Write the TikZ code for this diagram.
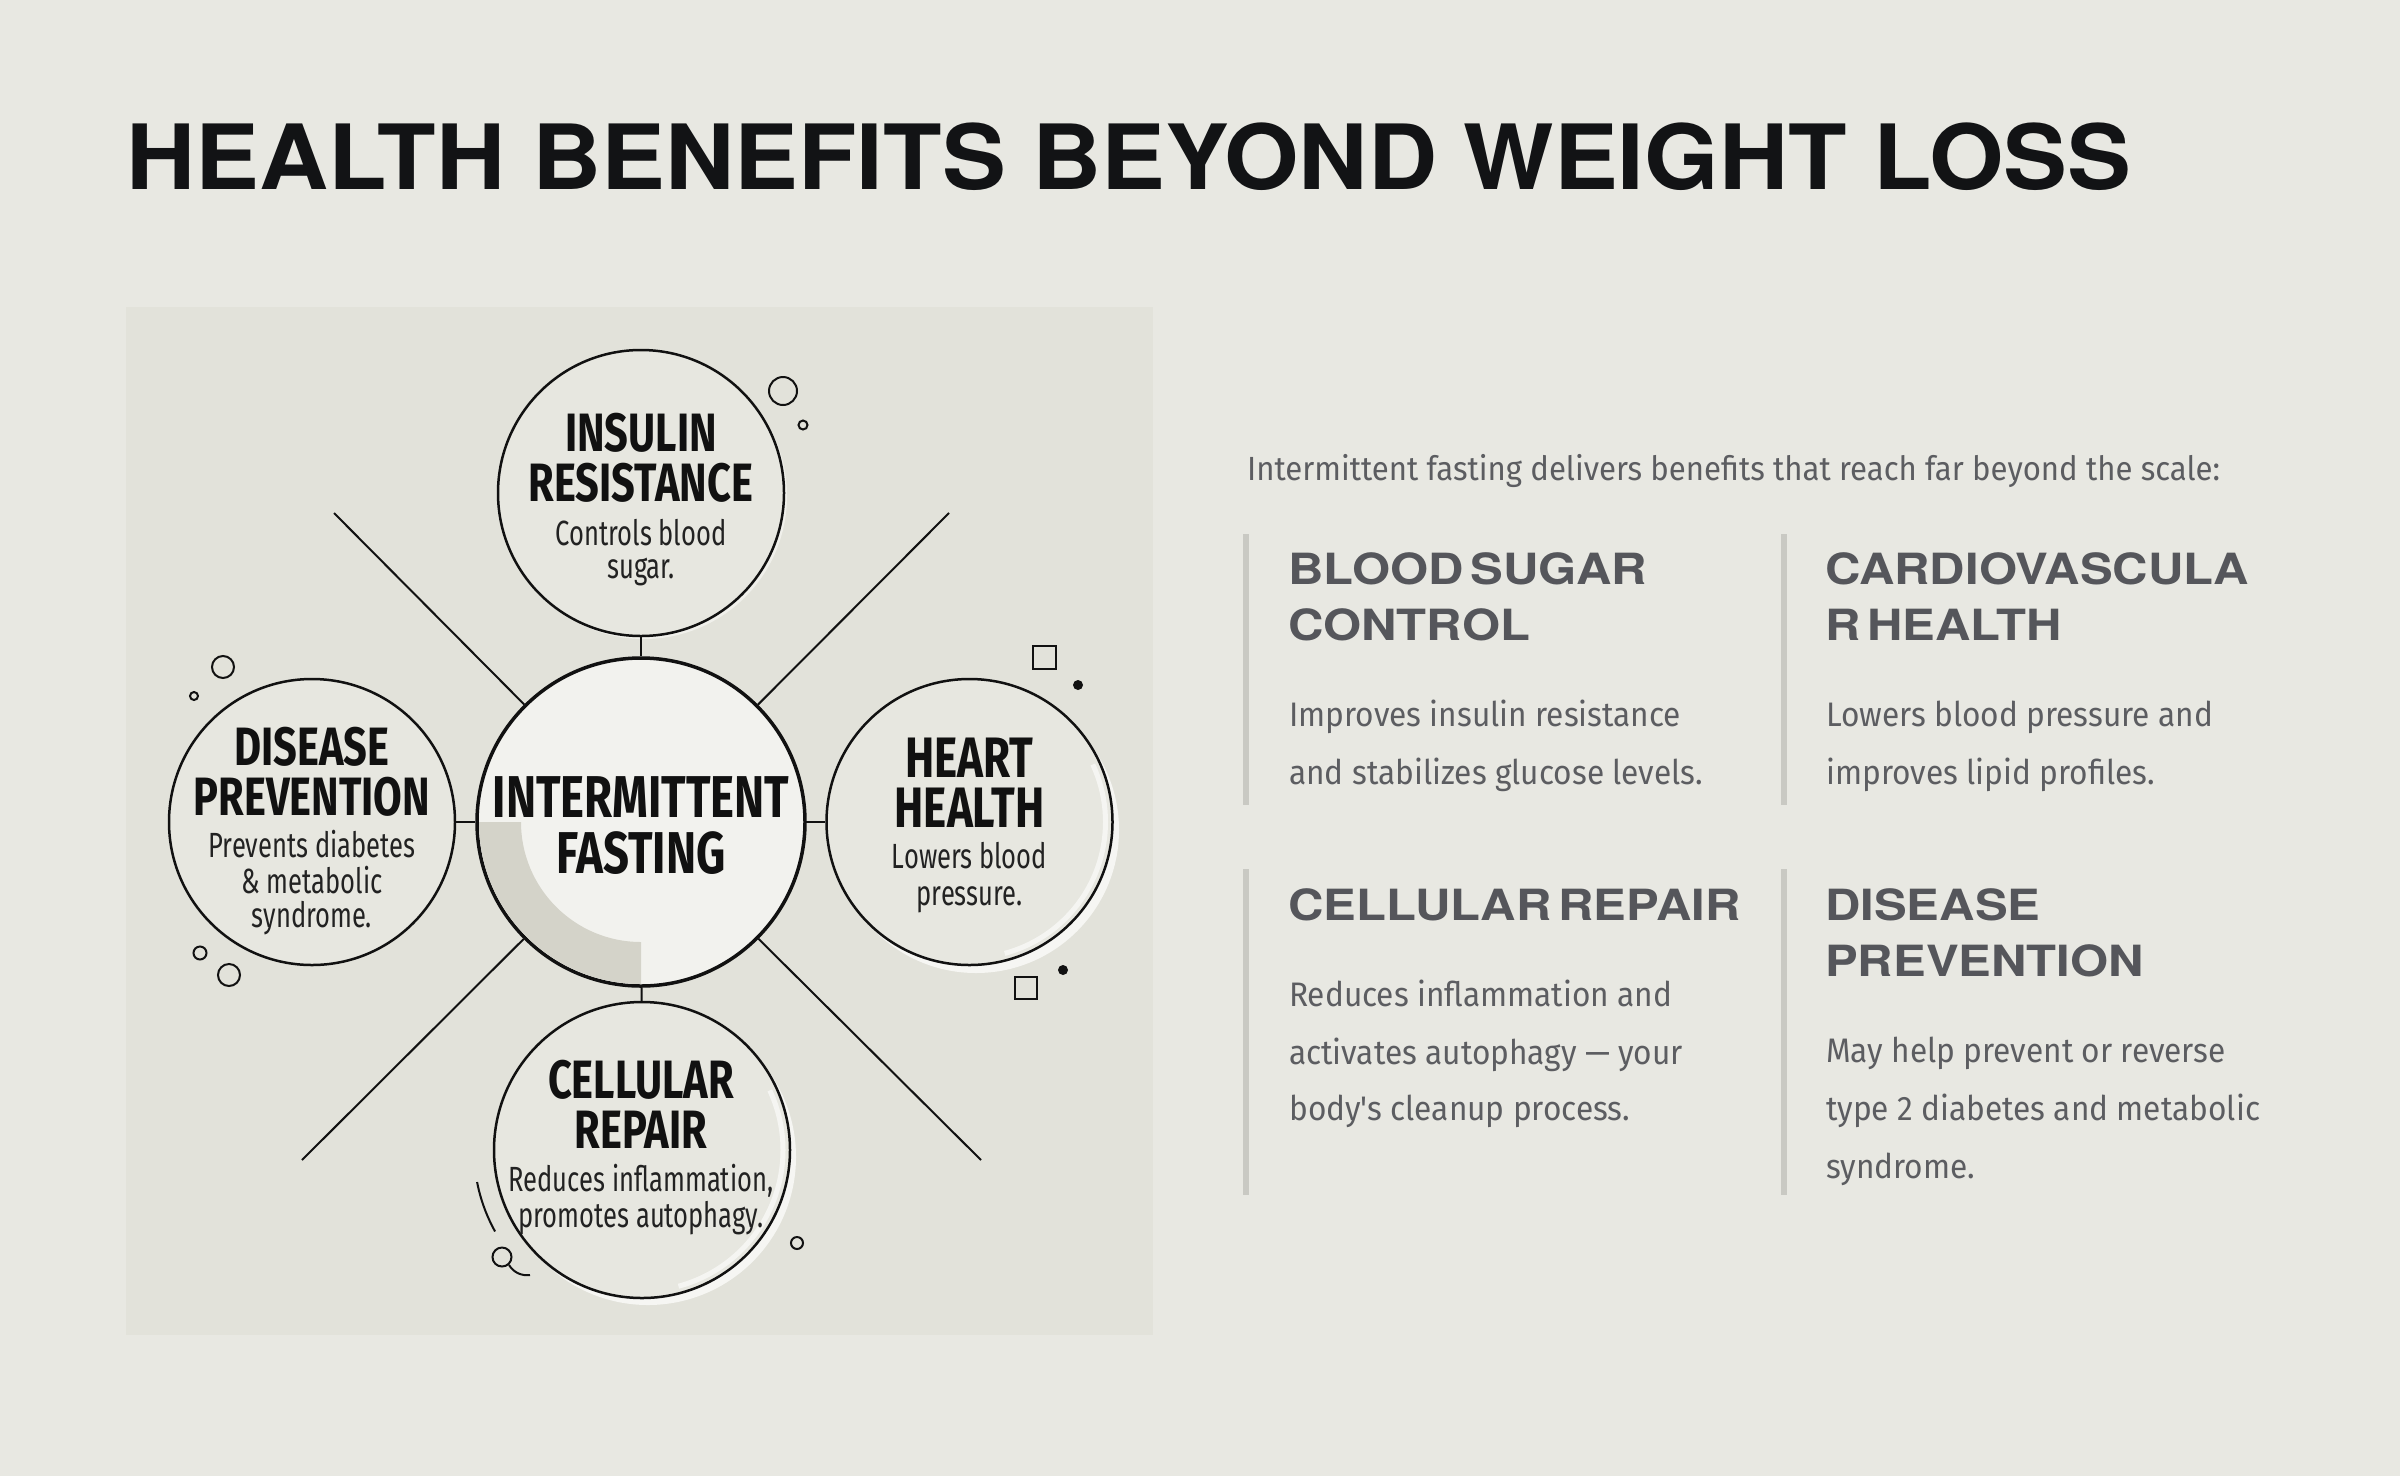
\documentclass[tikz,border=0pt]{standalone}
\usepackage{fontspec}
\setmainfont{Fira Sans}
\newfontfamily\titlef{TeX Gyre Heros}[FakeStretch=1.064]
\newfontfamily\headf{TeX Gyre Heros}[FakeStretch=1.14, WordSpace=0.5]
\newfontfamily\bodyf{Fira Sans}[FakeStretch=0.93]
\newfontfamily\chf{Fira Sans}[FakeStretch=0.77]
\newfontfamily\csf{Fira Sans}[FakeStretch=0.73]
\definecolor{bgc}{HTML}{E8E8E2}
\definecolor{panelc}{HTML}{E2E2DA}
\definecolor{circc}{HTML}{E7E7E0}
\definecolor{centc}{HTML}{F2F2EE}
\definecolor{greyq}{HTML}{D4D3C9}
\definecolor{titlec}{HTML}{121315}
\definecolor{headc}{HTML}{55565B}
\definecolor{bodyc}{HTML}{5C5D61}
\definecolor{barc}{HTML}{C9C9C3}
\definecolor{inkc}{HTML}{111111}
\definecolor{subc}{HTML}{222222}
\definecolor{shinec}{HTML}{F6F6F3}
\begin{document}
\begin{tikzpicture}[x=1pt,y=1pt,
  ln/.style={draw=inkc, line width=2pt},
  bubble/.style={circle, draw=inkc, line width=2.5pt, fill=circc, inner sep=0pt, minimum size=#1},
  chead/.style={inner sep=0pt, anchor=base, text=inkc, font=\chf\bfseries\fontsize{54}{60}\selectfont},
  csub/.style={inner sep=0pt, anchor=base, text=subc, font=\csf\fontsize{35}{40}\selectfont},
  rhead/.style={inner sep=0pt, anchor=base west, text=headc, font=\headf\bfseries\fontsize{43}{50}\selectfont},
  rbody/.style={inner sep=0pt, anchor=base west, text=bodyc, font=\bodyf\fontsize{34}{40}\selectfont},
  bar/.style={fill=barc},
  deco/.style={draw=inkc, line width=2pt},
]
\useasboundingbox (0,0) rectangle (2400,-1476);
\fill[bgc] (0,0) rectangle (2400,-1476);
\node[inner sep=0pt, anchor=base west, text=titlec, font=\titlef\bfseries\fontsize{90}{100}\selectfont] (title) at (126,-189) {HEALTH BENEFITS BEYOND WEIGHT LOSS};

% panel
\fill[panelc] (126,-307) rectangle (1153,-1335);

% shine circles
\fill[shinec] (976,-830) circle[radius=143];
\fill[shinec] (648,-1157) circle[radius=148];
\fill[shinec!60!circc] (644,-496) circle[radius=143];

% nodes
\node[bubble=286pt] (ins) at (641,-493) {};
\node[bubble=286pt] (dis) at (312,-822) {};
\node[bubble=286pt] (hrt) at (969.5,-822) {};
\node[bubble=296pt] (cel) at (642,-1150) {};
\node[circle, draw=inkc, line width=3.5pt, fill=centc, inner sep=0pt, minimum size=328pt] (c) at (641,-822) {};

% highlights
\draw[white, line width=5pt, opacity=.6] (969.5,-822) ++(-75:136) arc[start angle=-75, end angle=25, radius=136];
\draw[white, line width=5pt, opacity=.6] (642,-1150) ++(-75:141) arc[start angle=-75, end angle=25, radius=141];

% quarter annulus in centre
\fill[greyq] (641,-822) ++(-162,0) arc[start angle=180, end angle=270, radius=162] -- ++(0,42) arc[start angle=270, end angle=180, radius=120] -- cycle;

% diagonal lines
\coordinate (d1) at (334,-513);
\coordinate (d2) at (949,-513);
\coordinate (d3) at (302,-1160);
\coordinate (d4) at (981,-1160);
\draw[ln] (c) -- (d1);
\draw[ln] (c) -- (d2);
\draw[ln] (c) -- (d3);
\draw[ln] (c) -- (d4);
% connectors
\draw[ln] (c) -- (ins);
\draw[ln] (c) -- (dis);
\draw[ln] (c) -- (hrt);
\draw[ln] (c) -- (cel);

% decorations
\draw[deco] (783,-391) circle[radius=14];
\draw[deco] (803,-425) circle[radius=4.5];
\draw[deco] (223,-667) circle[radius=11];
\draw[deco] (194,-696) circle[radius=4];
\draw[deco] (200,-953) circle[radius=6.5];
\draw[deco] (229,-975) circle[radius=11];
\draw[deco] (1032.5,-645.5) rectangle (1055.5,-668.5);
\draw[deco] (1015,-977) rectangle (1037,-999);
\fill[inkc] (1078,-685) circle[radius=5];
\fill[inkc] (1063,-970) circle[radius=5];
\draw[deco] (642,-1150) ++(191:168) arc[start angle=191, end angle=209, radius=168];
\draw[deco] (502,-1257) circle[radius=9.5];
\draw[deco] (509,-1265) .. controls (514,-1273) and (522,-1276) .. (530,-1275);
\draw[deco] (797,-1243) circle[radius=6];

% circle texts
\node[chead] (ins1) at (641,-451) {INSULIN};
\node[chead] (ins2) at (641,-501) {RESISTANCE};
\node[csub] (ins3) at (641,-545) {Controls blood};
\node[csub] (ins4) at (641,-578) {sugar.};

\node[chead] (dis1) at (312,-765) {DISEASE};
\node[chead] (dis2) at (312,-815) {PREVENTION};
\node[csub] (dis3) at (312,-857) {Prevents diabetes};
\node[csub] (dis4) at (312,-893) {\& metabolic};
\node[csub] (dis5) at (312,-927) {syndrome.};

\node[chead, font=\chf\bfseries\fontsize{59}{60}\selectfont] (c1) at (641,-817) {INTERMITTENT};
\node[chead, font=\chf\bfseries\fontsize{59}{60}\selectfont] (c2) at (641,-873) {FASTING};

\node[chead, font=\chf\bfseries\fontsize{57}{60}\selectfont] (h1) at (969.5,-777) {HEART};
\node[chead, font=\chf\bfseries\fontsize{57}{60}\selectfont] (h2) at (969.5,-827) {HEALTH};
\node[csub] (h3) at (969.5,-868) {Lowers blood};
\node[csub] (h4) at (969.5,-905) {pressure.};

\node[chead] (r1) at (641,-1098) {CELLULAR};
\node[chead] (r2) at (641,-1148) {REPAIR};
\node[csub] (r3) at (641,-1191) {Reduces inflammation,};
\node[csub] (r4) at (641,-1227) {promotes autophagy.};

% right side
\node[rbody, font=\bodyf\fontsize{33.5}{40}\selectfont] (intro) at (1247,-480) {Intermittent fasting delivers benefits that reach far beyond the scale:};

\fill[bar] (1243,-534) rectangle (1249,-805);
\fill[bar] (1781,-534) rectangle (1787,-805);
\fill[bar] (1243,-869) rectangle (1249,-1195);
\fill[bar] (1781,-869) rectangle (1787,-1195);

\node[rhead] (h11) at (1288,-584) {BLOOD SUGAR};
\node[rhead] (h12) at (1288,-640) {CONTROL};
\node[rbody] (b11) at (1289,-726) {Improves insulin resistance};
\node[rbody] (b12) at (1289,-784) {and stabilizes glucose levels.};

\node[rhead] (h21) at (1825,-584) {CARDIOVASCULA};
\node[rhead] (h22) at (1825,-640) {R HEALTH};
\node[rbody] (b21) at (1826,-726) {Lowers blood pressure and};
\node[rbody] (b22) at (1826,-784) {improves lipid profiles.};

\node[rhead] (h31) at (1288,-920) {CELLULAR REPAIR};
\node[rbody] (b31) at (1289,-1006) {Reduces inflammation and};
\node[rbody] (b32) at (1289,-1064) {activates autophagy — your};
\node[rbody] (b33) at (1289,-1120) {body's cleanup process.};

\node[rhead] (h41) at (1825,-920) {DISEASE};
\node[rhead] (h42) at (1825,-976) {PREVENTION};
\node[rbody] (b41) at (1826,-1062) {May help prevent or reverse};
\node[rbody] (b42) at (1826,-1120) {type 2 diabetes and metabolic};
\node[rbody] (b43) at (1826,-1178) {syndrome.};
\end{tikzpicture}
\end{document}
